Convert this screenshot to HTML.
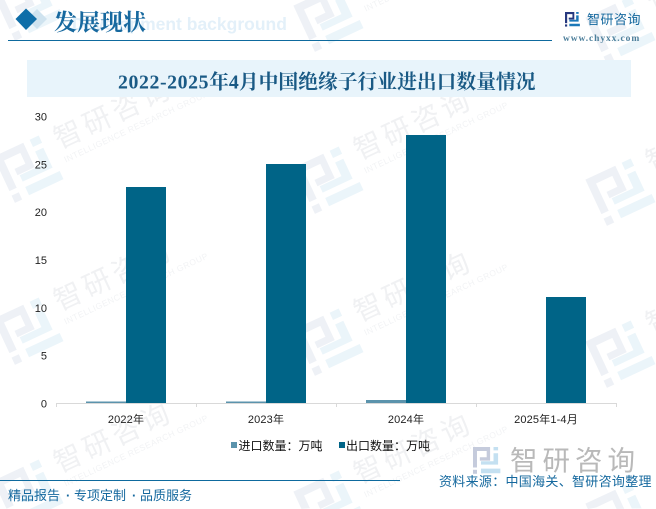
<!DOCTYPE html>
<html lang="zh">
<head>
<meta charset="utf-8">
<title>2022-2025年4月中国绝缘子行业进出口数量情况</title>
<style>
html,body{margin:0;padding:0;background:#fff;}
body{width:656px;height:509px;overflow:hidden;}
svg{display:block;}
.sans{font-family:"Liberation Sans","Noto Sans CJK SC",sans-serif;}
.serif{font-family:"Liberation Serif","Noto Serif CJK SC",serif;}
</style>
</head>
<body>
<svg id="chart" xmlns="http://www.w3.org/2000/svg" width="656" height="509" viewBox="0 0 656 509">
  <g id="watermarks"></g>

  <text class="sans" x="72" y="30" font-size="17.5" font-weight="700" fill="#e3f0f9">Development background</text>
  <polygon points="37,9 47,19 37,29 27,19" fill="#cfe3ef"/>
  <polygon points="26,8.500 37,19 26,30 15.500,19" fill="#0f6ea8"/>
  <text class="serif" x="54" y="30" font-size="23" font-weight="700" fill="#17699f">发展现状</text>
  <rect x="8" y="40" width="544" height="1" fill="#0e6a9e"/>

  <g transform="translate(565,12) scale(0.31)">
    <path d="M0 0H30V24H12V18H24V7H7V36H0Z" fill="#27397f"/>
    <rect x="0" y="40" width="7" height="7" fill="#27397f"/>
    <path d="M36 0H44V6H36ZM36 11H44V31H14V25H36ZM14 38H48V46H14Z" fill="#1b78b8"/>
  </g>
  <text class="sans" x="587" y="24" font-size="13" letter-spacing="0.5" fill="#14689e">智研咨询</text>
  <text class="serif" x="563" y="41" font-size="9.500" letter-spacing="0.900" font-weight="700" fill="#4d7f9b">www.chyxx.com</text>

  <rect x="27" y="60" width="604" height="37" fill="#e8f4fb"/>
  <text class="serif" x="118" y="88.500" font-size="19.800" font-weight="700" fill="#1a5a85"><tspan letter-spacing="0.600">2022-2025</tspan>年<tspan>4</tspan>月中国绝缘子行业进出口数量情况</text>

  <g id="y-axis"></g>
  <g id="bars" shape-rendering="crispEdges"></g>
  <g id="x-axis"></g>

  <g>
    <g>
      <rect x="231" y="442" width="6" height="6" fill="#5b93ac"/>
      <text class="sans" x="238.500" y="450" font-size="12" fill="#111">进口数量：万吨</text>
    </g>
    <g>
      <rect x="339" y="442" width="6" height="6" fill="#006487"/>
      <text class="sans" x="346" y="450" font-size="12" fill="#111">出口数量：万吨</text>
    </g>
  </g>

  <g transform="translate(473,447) scale(0.57)">
    <path d="M0 0H30V24H12V18H24V7H7V36H0Z" fill="#c5cbdc"/>
    <rect x="0" y="40" width="7" height="7" fill="#c5cbdc"/>
    <path d="M36 0H44V6H36ZM36 11H44V31H14V25H36ZM14 38H48V46H14Z" fill="#c4e0f1"/>
  </g>
  <text class="sans" x="510" y="470" font-size="27.500" letter-spacing="5" fill="#b9b9b9">智研咨询</text>

  <rect x="0" y="480" width="400" height="1" fill="#0e6a9e"/>
  <text class="sans" y="500" font-size="13" font-weight="400" fill="#14689e"><tspan x="8">精品报告</tspan><tspan x="66" font-weight="700">·</tspan><tspan x="74">专项定制</tspan><tspan x="132" font-weight="700">·</tspan><tspan x="140">品质服务</tspan></text>
  <text class="sans" x="439" y="486" font-size="13" letter-spacing="0.300" fill="#14689e">资料来源：中国海关、智研咨询整理</text>
</svg>
<script>
const categories = ['2022年', '2023年', '2024年', '2025年1-4月'];
const importValues = [0.15, 0.15, 0.33, 0.02];
const exportValues = [22.6, 25.0, 28.0, 11.1];
const yTicks = [0, 5, 10, 15, 20, 25, 30];

const NS = 'http://www.w3.org/2000/svg';
const plotLeft = 56, plotRight = 616, plotBottom = 403, plotTop = 116;
const yMax = 30;
const barWidth = 40;

function yScale(v) { return plotBottom - (v / yMax) * (plotBottom - plotTop); }
function xBand(i) { return plotLeft + i * (plotRight - plotLeft) / categories.length; }
function make(tag, attrs, parent) {
  const el = document.createElementNS(NS, tag);
  for (const k in attrs) el.setAttribute(k, attrs[k]);
  parent.appendChild(el);
  return el;
}

const yAxis = document.getElementById('y-axis');
yTicks.forEach(function (t) {
  const label = make('text', { x: 47, y: yScale(t) + 4.5, 'font-size': 11, 'text-anchor': 'end', fill: '#222', class: 'sans' }, yAxis);
  
  
  label.textContent = t;
});

const bars = document.getElementById('bars');
categories.forEach(function (c, i) {
  const mid = xBand(i) + (plotRight - plotLeft) / categories.length / 2;
  const imp = make('rect', { x: mid - barWidth, y: yScale(importValues[i]), width: barWidth, height: plotBottom - yScale(importValues[i]), fill: '#5b93ac' }, bars);
  
  
  const exp = make('rect', { x: mid, y: yScale(exportValues[i]), width: barWidth, height: plotBottom - yScale(exportValues[i]), fill: '#006487' }, bars);
  
  
});

const xAxis = document.getElementById('x-axis');
const axisLine = make('rect', { x: plotLeft, y: 403, width: plotRight - plotLeft + 1, height: 1, fill: '#d9d9d9' }, xAxis);


for (let i = 0; i <= categories.length; i++) {
  const tick = make('rect', { x: xBand(i), y: 403, width: 1, height: 4, fill: '#d9d9d9' }, xAxis);
  
  
}
categories.forEach(function (c, i) {
  const mid = xBand(i) + (plotRight - plotLeft) / categories.length / 2;
  const label = make('text', { x: mid, y: 423, 'font-size': 11, 'text-anchor': 'middle', 'letter-spacing': 0.15, fill: '#222', class: 'sans' }, xAxis);
  
  
  label.textContent = c;
});

/* watermark logo pieces: full tile, plus shapes trimmed to the frame for the bottom row */
const logoFull = { dark: 'M-27 -24H6V3H-13V-4H-1V-16H-19V14H-27ZM-27 19H-19V27H-27Z', light: 'M13 -24H23V-16H13ZM13 -11H22V11H-11V4H13ZM-11 17H27V26H-11Z', label: true };
const logoTrim18 = { dark: 'M-27 -24H6V3H-13V-4H-1V-16H-19V7H-27Z', light: 'M13 -24H23V-16H13ZM13 -11H22V11H-2L-11 7V4H13ZM-6 17H27V26H13Z', label: true };
const logoTrim7 = { dark: 'M-27 -24H6V3H-10V-4H-1V-16H-19V-2L-27 -5Z', light: 'M13 -24H23V-16H13ZM13 -11H22V11H7L-8 4H13ZM20 17H27V20Z', label: true };
const logoTrimNeg5 = { dark: 'M-27 -24H6V-3L-1 -6V-16H-19L-27 -18Z', light: 'M13 -24H23V-16H13ZM13 -11H22V4L13 0Z', label: false };

const wm = document.getElementById('watermarks');
[
  [28, 5, logoFull], [28, 167, logoFull], [28, 329, logoFull], [28, 491, logoTrim18],
  [328, 16, logoFull], [328, 178, logoFull], [328, 340, logoFull], [328, 502, logoTrim7],
  [620, 28, logoFull], [620, 190, logoFull], [620, 352, logoFull], [620, 514, logoTrimNeg5]
].forEach(function (p) {
  const g = make('g', { transform: 'translate(' + p[0] + ',' + p[1] + ') rotate(-25)' }, wm);
  
  
  make('path', { d: p[2].dark, fill: '#eef1f6' }, g);
  make('path', { d: p[2].light, fill: '#ebf5fa' }, g);
  if (!p[2].label) return;
  const name = make('text', { x: 36, y: -3, 'font-size': 28, 'letter-spacing': 4, fill: '#f0f1f3', class: 'sans' }, g);
  
  
  name.textContent = '智研咨询';
  const sub = make('text', { x: 36, y: 12, 'font-size': 8.5, 'letter-spacing': 0.5, fill: '#f2f3f5', class: 'sans' }, g);
  
  
  sub.textContent = 'INTELLIGENCE RESEARCH GROUP';
});
</script>
</body>
</html>
